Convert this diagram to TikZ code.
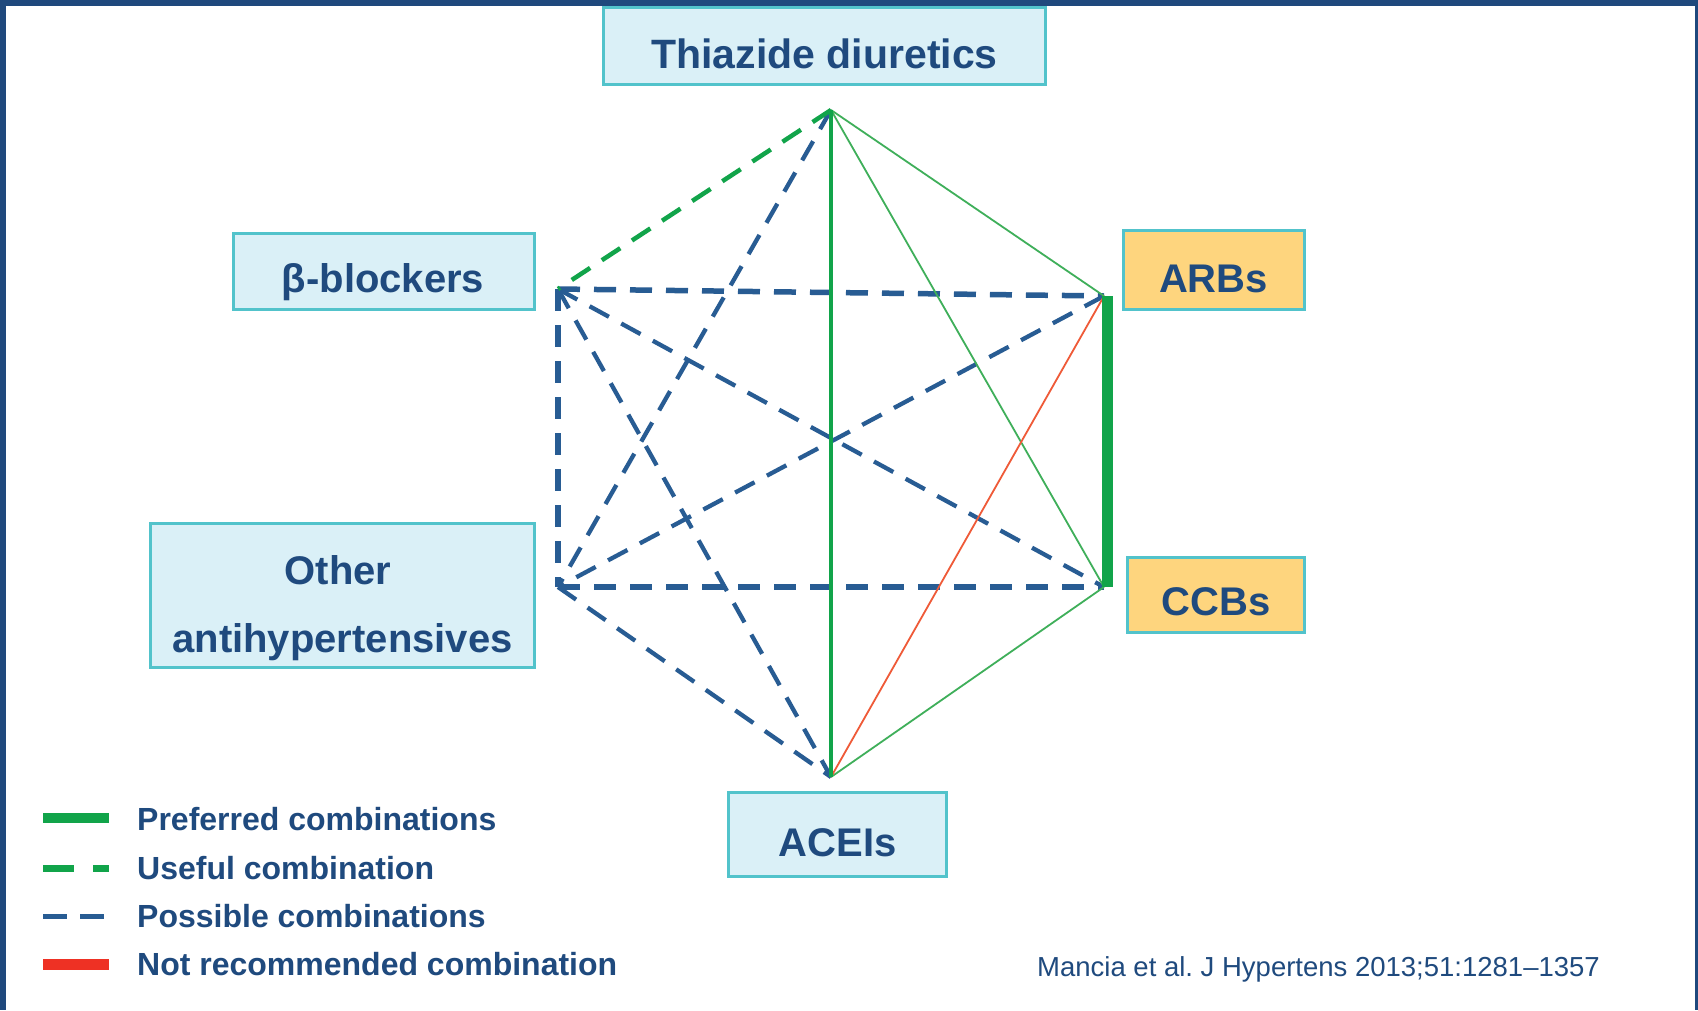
\documentclass[tikz,border=0pt]{standalone}
\usepackage{fontspec}
\setmainfont{Liberation Sans}
\definecolor{frameblue}{HTML}{1F497D}
\definecolor{txtblue}{HTML}{1F4A7E}
\definecolor{dashblue}{HTML}{285C93}
\definecolor{mygreen}{HTML}{11A44A}
\definecolor{lightgreen}{HTML}{3FAF5A}
\definecolor{thinred}{HTML}{EF5A38}
\definecolor{legred}{HTML}{EE3124}
\definecolor{boxfill}{HTML}{DAF0F7}
\definecolor{boxedge}{HTML}{52C3CB}
\definecolor{orangefill}{HTML}{FED57E}
\frenchspacing
\begin{document}
\begin{tikzpicture}[x=1pt,y=-1pt,
  boxb/.style={draw=boxedge, line width=3pt, fill=boxfill, inner sep=0pt},
  boxo/.style={boxb, fill=orangefill},
  lbl/.style={text=txtblue, font=\fontsize{40}{48}\selectfont\bfseries, inner sep=0pt, anchor=base},
  legtxt/.style={text=txtblue, font=\fontsize{32}{38}\selectfont\bfseries, inner sep=0pt, anchor=base west},
  possible/.style={draw=dashblue, line width=4.3pt, dash pattern=on 22pt off 14pt},
  possibleh/.style={possible, line width=5.5pt},
  useful/.style={draw=mygreen, line width=4.5pt, dash pattern=on 22pt off 14pt},
  thingreen/.style={draw=lightgreen, line width=1.8pt},
  midgreen/.style={draw=mygreen, line width=3.2pt},
  notrec/.style={draw=thinred, line width=1.8pt},
  prefbar/.style={draw=mygreen, line width=11pt}
]
\useasboundingbox (0,0) rectangle (1698,1010);
\fill[white] (0,0) rectangle (1698,1010);
% frame
\fill[frameblue] (0,0) rectangle (1698,6);
\fill[frameblue] (0,0) rectangle (6,1010);
\fill[frameblue] (1695,0) rectangle (1698,1010);

% vertices
\coordinate (T) at (831,110);
\coordinate (B) at (558,289);
\coordinate (A) at (1104,296);
\coordinate (C) at (1104,587);
\coordinate (O) at (558,587);
\coordinate (E) at (831,777);

% possible combinations
\draw[possibleh] (B) -- (A);
\draw[possibleh] (O) -- (C);
\draw[possibleh] (B) -- (O);
\draw[possible] (T) -- (O);
\draw[possible] (B) -- (C);
\draw[possible] (B) -- (E);
\draw[possible] (A) -- (O);
\draw[possible] (O) -- (E);
% useful
\draw[useful] (T) -- (B);
% thin green
\draw[thingreen] (T) -- (A);
\draw[thingreen] (T) -- (C);
\draw[thingreen] (E) -- (C);
% not recommended
\draw[notrec] (E) -- (A);
% preferred
\draw[midgreen] (T) -- (E);
\draw[prefbar] ([xshift=3.5pt]A) -- ([xshift=3.5pt]C);

% boxes
\node[boxb, minimum width=442pt, minimum height=77pt] (thbox) at (824.5,46) {};
\node[boxb, minimum width=301pt, minimum height=76pt] (bbbox) at (384,271.5) {};
\node[boxo, minimum width=181pt, minimum height=79pt] (arbox) at (1214,270) {};
\node[boxo, minimum width=177pt, minimum height=75pt] (ccbox) at (1216,595) {};
\node[boxb, minimum width=384pt, minimum height=144pt] (otbox) at (342.5,595.5) {};
\node[boxb, minimum width=218pt, minimum height=84pt] (acbox) at (837.5,834.5) {};

\node[lbl, font=\fontsize{41}{48}\selectfont\bfseries] (thtxt) at (824.5,68) {Thiazide diuretics};
\node[lbl] (bbtxt) at (383,292) {β-blockers};
\node[lbl] (artxt) at (1213.5,292) {ARBs};
\node[lbl] (cctxt) at (1216,615) {CCBs};
\node[lbl] (ottxt1) at (338,584) {Other};
\node[lbl] (ottxt2) at (342.5,652) {antihypertensives};
\node[lbl] (actxt) at (837.5,856) {ACEIs};

% legend
\coordinate (l1a) at (43,818); \coordinate (l1b) at (109,818);
\coordinate (l2a) at (43,868); \coordinate (l2b) at (109,868);
\coordinate (l3a) at (43,916); \coordinate (l3b) at (104,916);
\coordinate (l4a) at (43,964); \coordinate (l4b) at (109,964);
\draw[draw=mygreen, line width=10pt] (l1a) -- (l1b);
\draw[draw=mygreen, line width=7pt, dash pattern=on 31pt off 19pt] (l2a) -- (l2b);
\draw[draw=dashblue, line width=5pt, dash pattern=on 24pt off 13pt] (l3a) -- (l3b);
\draw[draw=legred, line width=11pt] (l4a) -- (l4b);
\node[legtxt] (lt1) at (137,830) {Preferred combinations};
\node[legtxt] (lt2) at (137,879) {Useful combination};
\node[legtxt] (lt3) at (137,927) {Possible combinations};
\node[legtxt] (lt4) at (137,975) {Not recommended combination};

% citation
\node[text=txtblue, font=\fontsize{27.5}{33}\selectfont, inner sep=0pt, anchor=base west] (cite) at (1037,976) {Mancia et al. J Hypertens 2013;51:1281–1357};
\end{tikzpicture}
\end{document}
